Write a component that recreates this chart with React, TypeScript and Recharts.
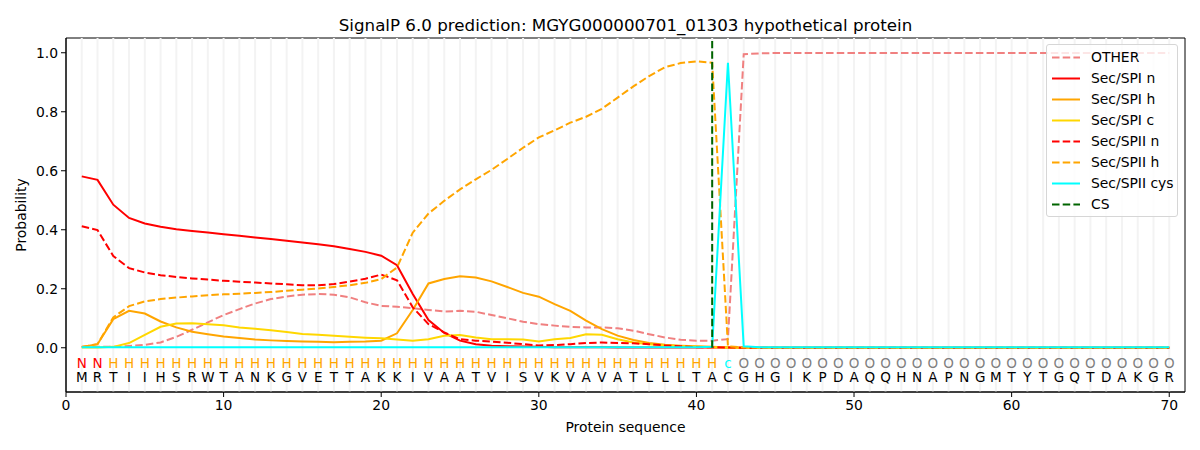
import React from "react";
import {
  ComposedChart,
  Line,
  XAxis,
  YAxis,
  ReferenceLine,
  ReferenceArea,
} from "recharts";

const TITLE = "SignalP 6.0 prediction: MGYG000000701_01303 hypothetical protein";

const SEQUENCE = "MRTIIHSRWTANKGVETTAKKIVAATVISVKVAVATLLLTACGHGIKPDAQQHNAPNGMTYTGQTDAKGR".split("");
const REGIONS = "NNHHHHHHHHHHHHHHHHHHHHHHHHHHHHHHHHHHHHHHHcOOOOOOOOOOOOOOOOOOOOOOOOOOOO".split("");
const POSITIONS = SEQUENCE.map((_, i) => i + 1);

const X_TICKS = [0, 10, 20, 30, 40, 50, 60, 70];
const Y_TICKS = [0, 0.2, 0.4, 0.6, 0.8, 1.0];
const CS_POS = 41;

const OTHER = [
  0.003, 0.003, 0.003, 0.006, 0.01, 0.018, 0.037, 0.061, 0.086, 0.111,
  0.131, 0.15, 0.165, 0.174, 0.18, 0.182, 0.18, 0.171, 0.154, 0.142,
  0.139, 0.134, 0.128, 0.123, 0.125, 0.122, 0.111, 0.1, 0.088, 0.08,
  0.075, 0.071, 0.069, 0.069, 0.066, 0.058, 0.046, 0.035, 0.027, 0.024,
  0.024, 0.029, 0.995, 0.998, 0.999, 0.999, 0.999, 0.999, 0.999, 0.999,
  0.999, 0.999, 0.999, 0.999, 0.999, 0.999, 0.999, 0.999, 0.999, 0.999,
  0.999, 0.999, 0.999, 0.999, 0.999, 0.999, 0.999, 0.999, 0.999, 0.999,
];
const SPI_N = [
  0.581, 0.569, 0.485, 0.44, 0.421, 0.41, 0.402, 0.396, 0.391, 0.385,
  0.38, 0.374, 0.369, 0.363, 0.357, 0.351, 0.344, 0.335, 0.325, 0.312,
  0.28, 0.182, 0.094, 0.05, 0.024, 0.012, 0.007, 0.005, 0.004, 0.003,
  0.002, 0.002, 0.002, 0.002, 0.001, 0.001, 0.001, 0.001, 0.001, 0.001,
  0.001, 0.001, 0, 0, 0, 0, 0, 0, 0, 0,
  0, 0, 0, 0, 0, 0, 0, 0, 0, 0,
  0, 0, 0, 0, 0, 0, 0, 0, 0, 0,
];
const SPI_H = [
  0.003, 0.012, 0.097, 0.125, 0.116, 0.089, 0.069, 0.054, 0.046, 0.038,
  0.033, 0.028, 0.025, 0.023, 0.021, 0.02, 0.019, 0.02, 0.021, 0.024,
  0.049, 0.128, 0.218, 0.233, 0.242, 0.238, 0.225, 0.206, 0.186, 0.173,
  0.148, 0.125, 0.092, 0.063, 0.041, 0.026, 0.016, 0.01, 0.007, 0.005,
  0.003, 0.001, 0, 0, 0, 0, 0, 0, 0, 0,
  0, 0, 0, 0, 0, 0, 0, 0, 0, 0,
  0, 0, 0, 0, 0, 0, 0, 0, 0, 0,
];
const SPI_C = [
  0.001, 0.001, 0.003, 0.016, 0.044, 0.071, 0.082, 0.083, 0.08, 0.076,
  0.069, 0.064, 0.059, 0.053, 0.047, 0.044, 0.041, 0.037, 0.034, 0.032,
  0.028, 0.024, 0.029, 0.041, 0.043, 0.035, 0.029, 0.029, 0.028, 0.021,
  0.029, 0.033, 0.046, 0.044, 0.029, 0.018, 0.012, 0.008, 0.005, 0.003,
  0.002, 0.001, 0, 0, 0, 0, 0, 0, 0, 0,
  0, 0, 0, 0, 0, 0, 0, 0, 0, 0,
  0, 0, 0, 0, 0, 0, 0, 0, 0, 0,
];
const SPII_N = [
  0.412, 0.399, 0.311, 0.27, 0.255, 0.246, 0.24, 0.235, 0.231, 0.227,
  0.224, 0.221, 0.218, 0.215, 0.212, 0.212, 0.216, 0.224, 0.234, 0.248,
  0.229, 0.137, 0.08, 0.052, 0.029, 0.024, 0.021, 0.017, 0.012, 0.008,
  0.009, 0.012, 0.016, 0.018, 0.016, 0.015, 0.012, 0.008, 0.005, 0.002,
  0.002, 0.001, 0, 0, 0, 0, 0, 0, 0, 0,
  0, 0, 0, 0, 0, 0, 0, 0, 0, 0,
  0, 0, 0, 0, 0, 0, 0, 0, 0, 0,
];
const SPII_H = [
  0.003, 0.012, 0.103, 0.141, 0.157, 0.165, 0.17, 0.174, 0.178, 0.181,
  0.183, 0.186, 0.189, 0.193, 0.197, 0.201, 0.206, 0.212, 0.22, 0.233,
  0.272, 0.39, 0.455, 0.498, 0.537, 0.571, 0.603, 0.64, 0.678, 0.713,
  0.737, 0.763, 0.783, 0.81, 0.848, 0.886, 0.921, 0.951, 0.965, 0.971,
  0.966, 0.005, 0.001, 0, 0, 0, 0, 0, 0, 0,
  0, 0, 0, 0, 0, 0, 0, 0, 0, 0,
  0, 0, 0, 0, 0, 0, 0, 0, 0, 0,
];
const SPII_CYS = [
  0.002, 0.002, 0.002, 0.002, 0.002, 0.002, 0.002, 0.002, 0.002, 0.002,
  0.002, 0.002, 0.002, 0.002, 0.002, 0.002, 0.002, 0.002, 0.002, 0.002,
  0.002, 0.002, 0.002, 0.002, 0.002, 0.002, 0.002, 0.002, 0.002, 0.002,
  0.002, 0.002, 0.002, 0.002, 0.002, 0.002, 0.002, 0.002, 0.002, 0.002,
  0.003, 0.966, 0.005, 0.002, 0.002, 0.002, 0.002, 0.002, 0.002, 0.002,
  0.002, 0.002, 0.002, 0.002, 0.002, 0.002, 0.002, 0.002, 0.002, 0.002,
  0.002, 0.002, 0.002, 0.002, 0.002, 0.002, 0.002, 0.002, 0.002, 0.002,
];

const DASH = "7.5 3.2";

const SERIES = [
  { key: "other", name: "OTHER", values: OTHER, color: "#F08080", dash: DASH },
  { key: "spiN", name: "Sec/SPI n", values: SPI_N, color: "#FF0000", dash: undefined },
  { key: "spiH", name: "Sec/SPI h", values: SPI_H, color: "#FFA500", dash: undefined },
  { key: "spiC", name: "Sec/SPI c", values: SPI_C, color: "#FFD700", dash: undefined },
  { key: "spiiN", name: "Sec/SPII n", values: SPII_N, color: "#FF0000", dash: DASH },
  { key: "spiiH", name: "Sec/SPII h", values: SPII_H, color: "#FFA500", dash: DASH },
  { key: "spiiCys", name: "Sec/SPII cys", values: SPII_CYS, color: "#00FFFF", dash: undefined },
];

const REGION_COLORS: Record<string, string> = {
  N: "#FF0000",
  H: "#FFA500",
  c: "#00FFFF",
  O: "#808080",
};

const FONT = "'DejaVu Sans', sans-serif";

const chartData = POSITIONS.map((pos, i) => {
  const row: Record<string, number> = { pos };
  SERIES.forEach((s) => {
    row[s.key] = s.values[i];
  });
  return row;
});

const regionRow = POSITIONS.map((pos, i) => ({ pos, y: -0.05, label: REGIONS[i] }));
const residueRow = POSITIONS.map((pos, i) => ({ pos, y: -0.1, label: SEQUENCE[i] }));

const letterDot = (colorOf: (l: string) => string) => (props: any) => {
  const { cx, cy, payload, index } = props;
  return (
    <text
      key={`t-${index}`}
      x={cx}
      y={cy}
      dy={5}
      textAnchor="middle"
      fontSize={13.5}
      fontFamily={FONT}
      fill={colorOf(payload.label)}
    >
      {payload.label}
    </text>
  );
};

function LegendBox() {
  const items = [
    ...SERIES.map((s) => ({ name: s.name, color: s.color, dash: s.dash })),
    { name: "CS", color: "#006400", dash: DASH },
  ];
  return (
    <div
      style={{
        position: "absolute",
        left: 1046,
        top: 44,
        width: 132,
        height: 173,
        boxSizing: "border-box",
        border: "1px solid #d6d6d6",
        borderRadius: 3,
        background: "rgba(255,255,255,0.8)",
        padding: "1.5px 0 0 5px",
      }}
    >
      {items.map((it) => (
        <div
          key={it.name}
          style={{ display: "flex", alignItems: "center", height: 21 }}
        >
          <svg width={28} height={21} style={{ display: "block" }}>
            <line
              x1={0}
              x2={28}
              y1={10.5}
              y2={10.5}
              stroke={it.color}
              strokeWidth={2}
              strokeDasharray={it.dash}
            />
          </svg>
          <span
            style={{
              marginLeft: 11,
              fontSize: 13.9,
              fontFamily: FONT,
              color: "#000",
              whiteSpace: "nowrap",
            }}
          >
            {it.name}
          </span>
        </div>
      ))}
    </div>
  );
}

export default function App() {
  return (
    <div
      style={{
        position: "absolute",
        left: 0,
        top: 0,
        width: 1200,
        height: 450,
        background: "#fff",
        fontFamily: FONT,
      }}
    >
      <ComposedChart
        width={1200}
        height={450}
        data={chartData}
        margin={{ top: 38, right: 15, bottom: 0, left: 0 }}
      >
        <XAxis
          type="number"
          dataKey="pos"
          domain={[0, 71]}
          ticks={X_TICKS}
          allowDataOverflow
          height={58}
          tickSize={5}
          tickMargin={3}
          stroke="#000"
          tick={{ fill: "#000", fontSize: 13.9, fontFamily: FONT }}
        />
        <YAxis
          type="number"
          domain={[-0.15, 1.05]}
          ticks={Y_TICKS}
          allowDataOverflow
          width={66}
          tickSize={5}
          tickMargin={3}
          stroke="#000"
          tickFormatter={(v: number) => v.toFixed(1)}
          tick={{ fill: "#000", fontSize: 13.9, fontFamily: FONT }}
        />
        {POSITIONS.map((p) => (
          <ReferenceLine key={`g-${p}`} x={p} stroke="#f3f3f3" strokeWidth={2} />
        ))}
        {SERIES.map((s) => (
          <Line
            key={s.key}
            dataKey={s.key}
            type="linear"
            stroke={s.color}
            strokeWidth={2}
            strokeDasharray={s.dash}
            dot={false}
            activeDot={false}
            isAnimationActive={false}
          />
        ))}
        <ReferenceLine
          segment={[
            { x: CS_POS, y: 0 },
            { x: CS_POS, y: 1.04 },
          ]}
          stroke="#006400"
          strokeWidth={2}
          strokeDasharray={DASH}
        />
        <Line
          data={regionRow}
          dataKey="y"
          stroke="none"
          dot={letterDot((l) => REGION_COLORS[l] ?? "#000")}
          activeDot={false}
          isAnimationActive={false}
        />
        <Line
          data={residueRow}
          dataKey="y"
          stroke="none"
          dot={letterDot(() => "#000")}
          activeDot={false}
          isAnimationActive={false}
        />
        <ReferenceArea
          x1={0}
          x2={71}
          y1={-0.15}
          y2={1.05}
          fill="none"
          stroke="#000"
          strokeWidth={1}
        />
      </ComposedChart>

      <div
        style={{
          position: "absolute",
          left: 66,
          width: 1119,
          top: 14.5,
          textAlign: "center",
          fontSize: 16.7,
          lineHeight: "20px",
        }}
      >
        {TITLE}
      </div>
      <div
        style={{
          position: "absolute",
          left: 66,
          width: 1119,
          top: 418,
          textAlign: "center",
          fontSize: 13.9,
          lineHeight: "18px",
        }}
      >
        Protein sequence
      </div>
      <div
        style={{
          position: "absolute",
          left: 21,
          top: 215,
          transform: "translate(-50%, -50%) rotate(-90deg)",
          fontSize: 13.9,
          lineHeight: "18px",
          whiteSpace: "nowrap",
        }}
      >
        Probability
      </div>
      <LegendBox />
    </div>
  );
}
